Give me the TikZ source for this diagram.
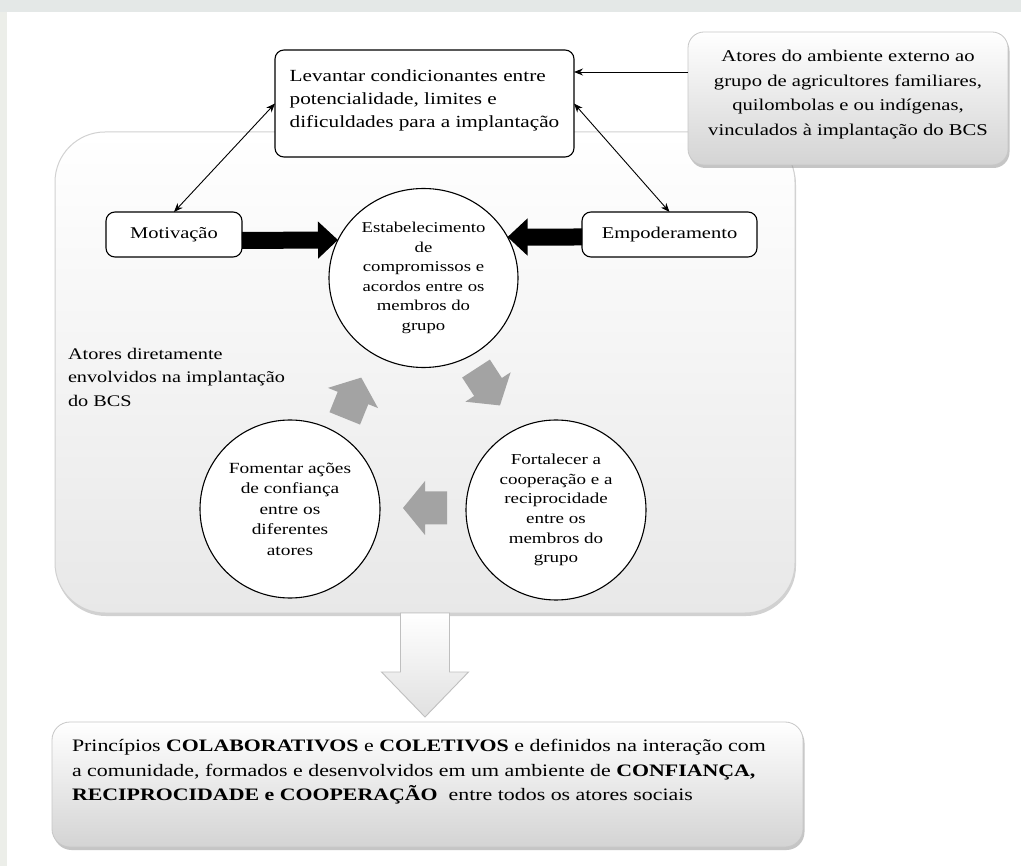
\documentclass[tikz,border=0pt]{standalone}
\usepackage{fontspec}
\setmainfont{Liberation Serif}[FakeStretch=1.25]
\usetikzlibrary{shapes.geometric,arrows.meta,shadows,calc}
\newcommand{\fsz}[2]{\fontsize{#1}{#2}\selectfont}
\definecolor{stripA}{HTML}{E4E8E7}
\definecolor{stripB}{HTML}{ECEEE9}
\definecolor{blockgray}{HTML}{A3A3A3}
\begin{document}
\begin{tikzpicture}[x=1pt,y=-1pt,
  every node/.style={inner sep=0pt, outer sep=0pt},
  rbox/.style={draw=black, line width=1.1pt, rounded corners=9pt, fill=white, align=center},
  circ/.style={draw=black, line width=1.1pt, ellipse, fill=white, align=center},
  softbox/.style={draw=black!22, line width=0.8pt, top color=white, bottom color=black!17,
    drop shadow={shadow xshift=1.5pt, shadow yshift=-3pt, opacity=0.5, fill=black!45}},
  panelbox/.style={draw=black!18, line width=1pt, rounded corners=50pt, top color=white, bottom color=black!9,
    drop shadow={shadow xshift=1pt, shadow yshift=-3pt, opacity=0.45, fill=black!40}},
  thinarr/.style={line width=0.9pt, {Stealth[length=9pt,width=7pt]}-{Stealth[length=9pt,width=7pt]}},
  onearr/.style={line width=0.9pt, -{Stealth[length=9pt,width=7pt]}},
  fatarr/.style={line width=17pt, -{Triangle[length=20pt,width=36pt]}},
  blockarrow/.pic={\fill[blockgray] (-22,-16.5) -- (0,-16.5) -- (0,-27) -- (22,0) -- (0,27) -- (0,16.5) -- (-22,16.5) -- cycle;},
]
\useasboundingbox (0,0) rectangle (1021,866);
\fill[white] (0,0) rectangle (1021,866);
\fill[stripA] (0,0) rectangle (1021,12);
\fill[stripB] (0,12) rectangle (7,866);

% big panel
\node[panelbox, minimum width=740pt, minimum height=481pt] (panel) at (425,372.5) {};

% right external box
\node[softbox, rounded corners=16pt, minimum width=320pt, minimum height=133pt] (ext) at (848,98.5) {};
\node[align=center, font=\fsz{16.5}{24.5}] (exttxt) at (848,94.5)
  {Atores do ambiente externo ao\\grupo de agricultores familiares,\\quilombolas e ou indígenas,\\vinculados à implantação do BCS};

% top box
\node[rbox, minimum width=299pt, minimum height=107pt] (top) at (424.5,103.5) {};
\node[align=left, font=\fsz{17}{23}] (toptxt) at (424.5,100.5)
  {Levantar condicionantes entre\\potencialidade, limites e\\dificuldades para a implantação};

% side boxes
\node[rbox, minimum width=136pt, minimum height=45pt, font=\fsz{16.4}{20}] (mot) at (174,234.5) {Motivação};
\node[rbox, minimum width=175pt, minimum height=45pt, font=\fsz{16.4}{20}] (emp) at (669.5,234.5) {Empoderamento};

% circles
\node[circ, minimum width=189pt, minimum height=179pt, font=\fsz{15}{19.5}] (c1) at (423.5,278)
  {Estabelecimento\\de\\compromissos e\\acordos entre os\\membros do\\grupo};
\node[circ, minimum width=180pt, minimum height=178pt, font=\fsz{15.5}{20.5}] (c3) at (290,509)
  {Fomentar ações\\de confiança\\entre os\\diferentes\\atores};
\node[circ, minimum width=180pt, minimum height=180pt, font=\fsz{15.2}{19.6}] (c2) at (556,510)
  {Fortalecer a\\cooperação e a\\reciprocidade\\entre os\\membros do\\grupo};

% label
\node[anchor=west, align=left, font=\fsz{16.2}{23.5}] (lab) at (68,377)
  {Atores diretamente\\envolvidos na implantação\\do BCS};

% connectors
\coordinate (extp) at (688,72);
\draw[onearr] (extp) -- (extp -| top.east);
\draw[thinarr] (mot.north) -- (top.west);
\draw[thinarr] (top.east) -- (emp.north);
\draw[fatarr] ([yshift=-6pt]mot.east) -- (c1.156);
\draw[fatarr] ([yshift=-2.5pt]emp.west) -- (c1.26);

% gray block arrows of the cycle
\pic[rotate=-57] (ga1) at (488,387) {blockarrow};
\pic[rotate=180] (ga2) at (425,508) {blockarrow};
\pic[rotate=68] (ga3) at (353,398) {blockarrow};

% bottom box
\node[softbox, rounded corners=18pt, minimum width=751pt, minimum height=125pt] (bot) at (427.5,784.5) {};
\node[anchor=west, align=left, font=\fsz{17.5}{24.5}] (bottxt) at (72,772)
  {Princípios \textbf{COLABORATIVOS} e \textbf{COLETIVOS} e definidos na interação com\\
   a comunidade, formados e desenvolvidos em um ambiente de \textbf{CONFIANÇA,}\\
   \textbf{RECIPROCIDADE e COOPERAÇÃO}\ \ entre todos os atores sociais};

% hollow down arrow
\coordinate (ha) at (panel.south);
\draw[draw=black!25, line width=0.9pt, top color=white, bottom color=black!12]
  ([xshift=-24.5pt]ha) -- ([xshift=24.5pt]ha) -- ([xshift=24.5pt,yshift=-59pt]ha) -- ([xshift=43.5pt,yshift=-59pt]ha)
  -- ([yshift=-104pt]ha) -- ([xshift=-43.5pt,yshift=-59pt]ha) -- ([xshift=-24.5pt,yshift=-59pt]ha) -- cycle;
\end{tikzpicture}
\end{document}
